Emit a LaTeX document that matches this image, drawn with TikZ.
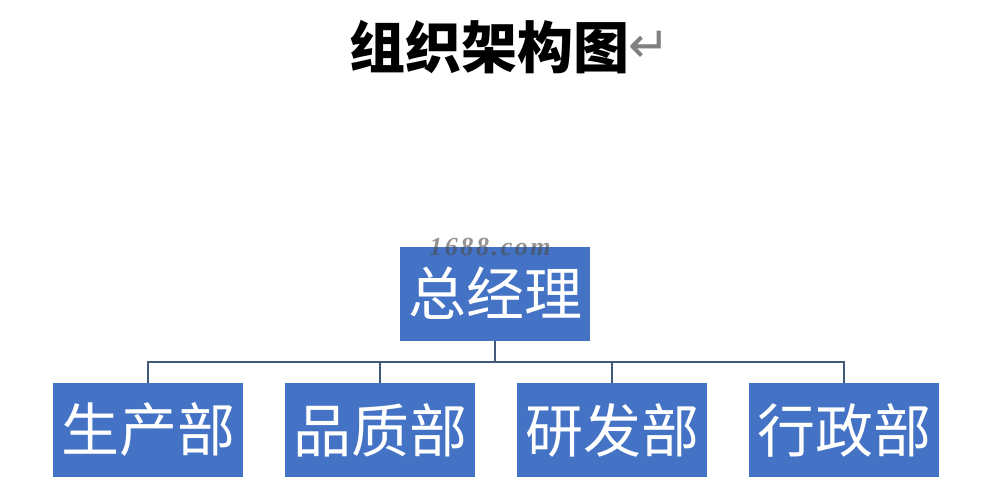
\documentclass[tikz,border=0pt]{standalone}
\usepackage{fontspec}
\newfontfamily\cjk{Noto Sans CJK SC}
\newfontfamily\symfont{DejaVu Sans}
\newfontfamily\markfont[LetterSpace=10]{Liberation Serif}
\usetikzlibrary{positioning}
\definecolor{boxblue}{HTML}{4472C4}
\definecolor{linegray}{HTML}{41597A}

\begin{document}
\begin{tikzpicture}[
    deptbox/.style={
       rectangle, fill=boxblue, draw=none, text=white,
       minimum width=190pt, minimum height=94pt,
       inner sep=0pt, outer sep=0pt,
       font=\cjk\fontsize{58}{60}\selectfont
        },
    link/.style={draw=linegray, line width=1.6pt},
    x=1pt, y=-1pt]

\useasboundingbox (0,0) rectangle (981,493);
\fill[white] (0,0) rectangle (981,493);

\node[font=\cjk\bfseries\fontsize{56}{60}\selectfont] (title) at (489,47) {组织架构图};
\node[right=-8pt of title, text=gray, font=\symfont\fontsize{50}{50}\selectfont] (ret) {↵};

\node[deptbox] (boss) at (495,293.5) {总经理};
\coordinate (bus) at (495,362);
\foreach [count=\j] \t in {生产部,品质部,研发部,行政部} {
   \node[deptbox] (dept-\j) at ({148+232*(\j-1)},430) {\t};
   \draw[link] (boss.south) |- (bus) -| (dept-\j.north);
  }

\node[text=black!70, opacity=0.6, font=\markfont\bfseries\itshape\fontsize{26}{26}\selectfont] (mark) at (490,247) {1688.com};
\end{tikzpicture}
\end{document}
